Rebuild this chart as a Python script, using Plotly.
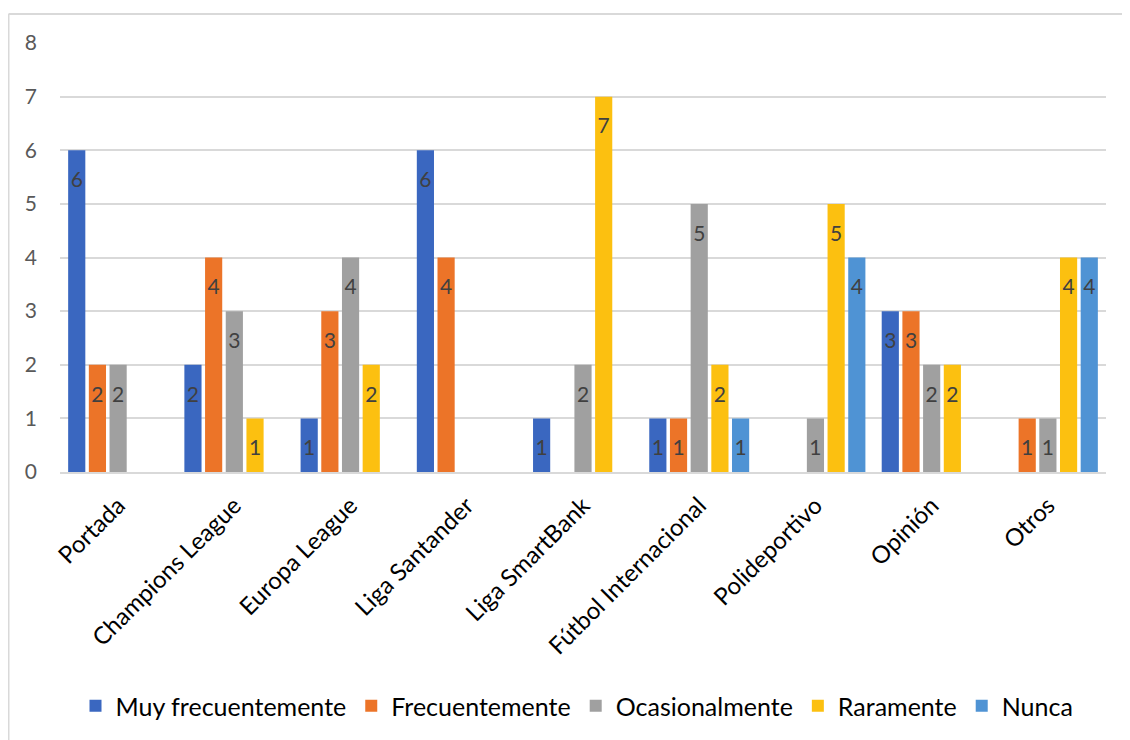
import plotly.graph_objects as go

categories = ["Portada", "Champions League", "Europa League", "Liga Santander",
              "Liga SmartBank", "Fútbol Internacional", "Polideportivo", "Opinión", "Otros"]
series_names = ["Muy frecuentemente", "Frecuentemente", "Ocasionalmente", "Raramente", "Nunca"]
muy_frecuentemente = [6, 2, 1, 6, 1, 1, 0, 3, 0]
frecuentemente = [2, 4, 3, 4, 0, 1, 0, 3, 1]
ocasionalmente = [2, 3, 4, 0, 2, 5, 1, 2, 1]
raramente = [0, 1, 2, 0, 7, 2, 5, 2, 4]
nunca = [0, 0, 0, 0, 0, 1, 4, 0, 4]
y_ticks = [0, 1, 2, 3, 4, 5, 6, 7, 8]

series_values = [muy_frecuentemente, frecuentemente, ocasionalmente, raramente, nunca]
colors = ["#3A67C0", "#EC7428", "#A0A0A0", "#FCC010", "#4F93D4"]

FONT = "Lato, 'Open Sans', sans-serif"
BARGAP = 0.11

fig = go.Figure()
for name, vals, col in zip(series_names, series_values, colors):
    fig.add_trace(go.Bar(
        x=categories, y=vals, name=name,
        marker=dict(color=col, line=dict(width=0)),
    ))

# data labels (inside end, as in the original) via grouped scatter text
for name, vals in zip(series_names, series_values):
    fig.add_trace(go.Scatter(
        x=categories, y=vals, mode="markers+text", showlegend=False, hoverinfo="skip",
        orientation="v",
        text=[str(v) if v else "" for v in vals],
        textposition="bottom center",
        marker=dict(size=32, color="rgba(0,0,0,0)"),
        textfont=dict(size=21, color="#404040", family=FONT),
        cliponaxis=False,
    ))

# page has 8px body margin; work in div coordinates
W, H = 1122, 732
L, T = 52, 35
PW, PH = 1046, 429
R = W - L - PW
B = H - T - PH

def px_x(p):  # page pixel -> paper
    return (p - 8 - L) / PW

def px_y(p):
    return (H - B - (p - 8)) / PH

fig.update_layout(
    width=W, height=H,
    margin=dict(l=L, r=R, t=T, b=B, autoexpand=False),
    barmode="group", bargap=BARGAP, bargroupgap=0.17,
    scattermode="group", scattergap=BARGAP,
    plot_bgcolor="white", paper_bgcolor="white",
    font=dict(family=FONT, color="#000000"),
    showlegend=True,
    legend=dict(orientation="h", x=px_x(577), xanchor="center", y=px_y(706), yanchor="middle",
                font=dict(size=25, color="#000000", family=FONT),
                itemwidth=30, traceorder="normal"),
    xaxis=dict(tickangle=-45, tickfont=dict(size=24, color="#000000", family=FONT),
               showgrid=False, showline=True, linecolor="#D9D9D9", linewidth=2,
               ticks="", ticklabelstandoff=8, automargin=False),
    yaxis=dict(range=[0, 8], tickvals=y_ticks, showgrid=True, gridcolor="#D9D9D9",
               gridwidth=1.5, zeroline=False, showline=False, ticks="",
               tickfont=dict(size=21, color="#595959", family=FONT),
               ticklabelstandoff=22, automargin=False),
    shapes=[
        dict(type="line", xref="paper", yref="paper", x0=px_x(8.5), x1=px_x(8.5),
             y0=px_y(14), y1=px_y(745), line=dict(color="#D9D9D9", width=2)),
        dict(type="line", xref="paper", yref="paper", x0=px_x(8.5), x1=px_x(1135),
             y0=px_y(14), y1=px_y(14), line=dict(color="#D9D9D9", width=2)),
    ],
)

fig.write_html("out.html")
